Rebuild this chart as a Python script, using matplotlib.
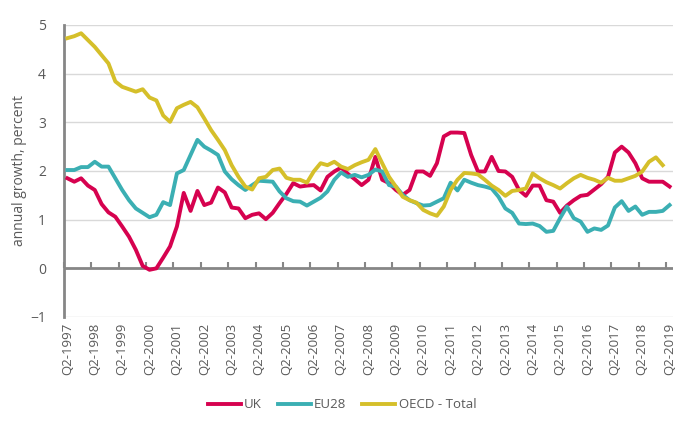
import numpy as np
import matplotlib
matplotlib.use("Agg")
import matplotlib.pyplot as plt

plt.rcParams['font.family'] = ['Open Sans', 'DejaVu Sans']

quarters = [f"Q{q}-{y}" for y in range(1997, 2020) for q in (1, 2, 3, 4)]
quarters = quarters[1:quarters.index("Q2-2019") + 1]  # Q2-1997 .. Q2-2019

uk = [1.85, 1.78, 1.85, 1.70, 1.61, 1.32, 1.15, 1.06, 0.86, 0.65, 0.38, 0.05, -0.03, 0.00, 0.22,
      0.45, 0.86, 1.55, 1.18, 1.59, 1.30, 1.35, 1.66, 1.56, 1.25, 1.23, 1.03, 1.10, 1.13,
      1.01, 1.14, 1.34, 1.53, 1.75, 1.68, 1.70, 1.71, 1.60, 1.88, 1.99, 2.07, 1.94, 1.83, 1.71,
      1.82, 2.29, 1.82, 1.75, 1.61, 1.51, 1.61, 1.99, 1.99, 1.90, 2.16, 2.71, 2.79, 2.79, 2.78,
      2.33, 1.99, 1.99, 2.29, 2.00, 1.99, 1.88, 1.61, 1.49, 1.70, 1.70, 1.40, 1.37, 1.14,
      1.29, 1.40, 1.49, 1.51, 1.62, 1.73, 1.88, 2.38, 2.50, 2.38, 2.16, 1.85, 1.78, 1.78, 1.78, 1.68]

eu28 = [2.02, 2.02, 2.08, 2.08, 2.19, 2.09, 2.09, 1.85, 1.61, 1.40, 1.23, 1.14, 1.05, 1.10, 1.36,
        1.30, 1.95, 2.02, 2.33, 2.64, 2.50, 2.42, 2.33, 1.99, 1.83, 1.71, 1.61, 1.71, 1.80,
        1.79, 1.78, 1.58, 1.44, 1.38, 1.37, 1.29, 1.37, 1.45, 1.58, 1.82, 1.97, 1.88, 1.92, 1.87,
        1.92, 2.03, 1.99, 1.71, 1.68, 1.51, 1.40, 1.34, 1.29, 1.30, 1.37, 1.44, 1.76, 1.60, 1.82,
        1.76, 1.71, 1.68, 1.64, 1.47, 1.23, 1.14, 0.92, 0.91, 0.92, 0.87, 0.75, 0.77, 1.03,
        1.27, 1.03, 0.96, 0.75, 0.82, 0.79, 0.88, 1.25, 1.38, 1.18, 1.27, 1.10, 1.16, 1.16, 1.18, 1.30]

oecd = [4.73, 4.77, 4.83, 4.69, 4.55, 4.38, 4.21, 3.84, 3.73, 3.68, 3.63, 3.68, 3.51, 3.45, 3.14,
        3.01, 3.29, 3.36, 3.42, 3.31, 3.08, 2.84, 2.64, 2.43, 2.12, 1.88, 1.68, 1.62, 1.85,
        1.88, 2.02, 2.05, 1.86, 1.82, 1.82, 1.76, 1.99, 2.16, 2.12, 2.19, 2.09, 2.04, 2.12, 2.18,
        2.23, 2.45, 2.16, 1.88, 1.68, 1.47, 1.40, 1.35, 1.20, 1.13, 1.08, 1.27, 1.61, 1.82, 1.96,
        1.95, 1.93, 1.82, 1.70, 1.61, 1.49, 1.59, 1.61, 1.64, 1.95, 1.85, 1.77, 1.71, 1.64,
        1.75, 1.85, 1.92, 1.86, 1.82, 1.76, 1.86, 1.80, 1.80, 1.85, 1.90, 1.99, 2.19, 2.28, 2.12]

series = [("UK", uk, "#D6024F"), ("EU28", eu28, "#3BAFB3"), ("OECD - Total", oecd, "#D5BF2A")]

fig = plt.figure(figsize=(6.82, 4.25), dpi=100)
ax = fig.add_axes([64 / 682, 1 - 317 / 425, (673 - 64) / 682, (317 - 25) / 425])

x = np.arange(len(quarters))
for name, vals, col in series:
    ax.plot(x[:len(vals)], vals, color=col, lw=2.8, label=name, solid_joinstyle='round', zorder=3)

ax.set_xlim(-0.5, len(quarters) - 0.5)
ax.set_ylim(-1, 5)
ax.set_yticks(range(-1, 6))
ax.grid(axis='y', color='#D9D9D9', lw=1, zorder=0)
ax.set_axisbelow(True)

for s in ['top', 'right', 'bottom']:
    ax.spines[s].set_visible(False)
ax.spines['left'].set_color('#868686')
ax.spines['left'].set_linewidth(2)

ax.tick_params(axis='y', length=0, pad=13, labelsize=10, labelcolor='#595959')
ax.set_xticks(x[::4])
ax.set_xticklabels(quarters[::4], rotation=90)
ax.tick_params(axis='x', length=0, pad=4, labelsize=9.5, labelcolor='#595959')

# horizontal axis crossing at zero with tick marks
ax.axhline(0, color='#868686', lw=2, zorder=2)
sec = ax.secondary_xaxis(1 / 6)
sec.set_xticks(np.arange(-0.5, len(quarters), 4))
sec.tick_params(axis='x', direction='in', length=4, width=1.5, color='#868686', labelbottom=False)
sec.spines['bottom'].set_visible(False)

ax.set_ylabel("annual growth, percent", fontsize=10, color='#595959')
ax.yaxis.set_label_coords((27 - 64) / 609, 0.5)

fig.legend(loc='center', bbox_to_anchor=(342 / 682, 1 - 405 / 425), ncol=3, frameon=False,
           fontsize=9.5, handlelength=2.5, columnspacing=1.2, handletextpad=0.25,
           labelcolor='#595959')

fig.savefig("out.png", dpi=100)
